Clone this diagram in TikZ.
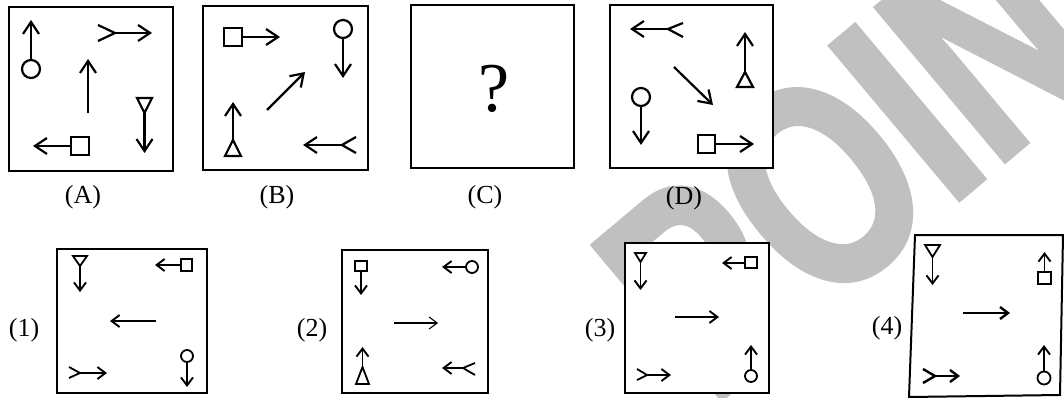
\documentclass[tikz,border=0pt]{standalone}
\usepackage{fontspec}
\setmainfont{Liberation Serif}
\newfontface\markfont{Liberation Sans Bold}[FakeStretch=0.74, FakeBold=2]
\usetikzlibrary{arrows.meta}
\definecolor{markgray}{RGB}{192,192,192}

\begin{document}
\begin{tikzpicture}[x=1pt,y=-1pt]
\tikzstyle{box} = [draw, line width=2pt, fill=white]
\tikzstyle{part} = [line width=2.2pt]
\tikzstyle{fig} = [line width=2.2pt, -{Straight Barb[length=12pt,width=16pt]}]
\tikzstyle{bit} = [line width=1.8pt]
\tikzstyle{small} = [line width=1.9pt, -{Straight Barb[length=8pt,width=12pt]}]
\tikzstyle{lbl} = [font=\fontsize{26}{26}\selectfont, inner sep=0pt]
\useasboundingbox (0,0) rectangle (1064,398);

% watermark
\node[text=markgray, font=\markfont\fontsize{290}{290}\selectfont,
  rotate=40, inner sep=0pt] (mark) at (898,120) {POINT};

% top row
\draw[box] (9,7) rectangle (173,171);
\draw[box] (203,6) rectangle (368,170);
\draw[box] (411,5) rectangle (574,168);
\draw[box] (610,5) rectangle (773,168);
\node[lbl] (labA) at (83,197) {(A)};
\node[lbl] (labB) at (277,197) {(B)};
\node[lbl] (labC) at (485,197) {(C)};
\node[lbl] (labD) at (684,198) {(D)};

% figure A
\draw[part] (31,69) circle[radius=9];
\draw[fig] (31,60) -- (31,20);
\draw[part] (98,25) -- (115,33) -- (98,41);
\draw[fig] (115,33) -- (152,33);
\draw[fig] (88,113) -- (88,59);
\draw[part] (137,98) -- (152,98) -- (144.5,113) -- cycle;
\draw[fig] (144.5,113) -- (144.5,153);
\draw[part] (71,137) rectangle (89,155);
\draw[fig] (71,146) -- (33,146);

% figure B
\draw[part] (224,28) rectangle (242,46);
\draw[fig] (242,37) -- (280,37);
\draw[part] (343,29) circle[radius=9];
\draw[fig] (343,38) -- (343,78);
\draw[fig] (267,110) -- (305,72);
\draw[part] (225,156) -- (241,156) -- (233,140) -- cycle;
\draw[fig] (233,140) -- (233,102);
\draw[part] (356,137) -- (342,145) -- (356,153);
\draw[fig] (342,145) -- (303,145);

% figure C
\node[font=\fontsize{70}{70}\selectfont, inner sep=0pt] (qmark) at (494,89) {?};

% figure D
\draw[part] (683,23) -- (668,29) -- (683,37);
\draw[fig] (668,29) -- (630,29);
\draw[fig] (674,67) -- (713,105);
\draw[part] (737,87) -- (753,87) -- (745,72) -- cycle;
\draw[fig] (745,72) -- (745,32);
\draw[part] (641,97) circle[radius=9];
\draw[fig] (641,106) -- (641,145);
\draw[part] (698,135) rectangle (715,153);
\draw[fig] (715,144) -- (754,144);

% answer row
\draw[box] (57,249) rectangle (207,393);
\draw[box] (342,250) rectangle (488,393);
\draw[box] (625,243) rectangle (769,393);
\draw[box] (915,235) -- (1063,235) -- (1060,395) -- (909,397) -- cycle;
\node[lbl] (lab1) at (24,330) {(1)};
\node[lbl] (lab2) at (312,330) {(2)};
\node[lbl] (lab3) at (600,330) {(3)};
\node[lbl] (lab4) at (887,328) {(4)};

% option 1
\draw[bit] (73,256) -- (87,256) -- (80,266) -- cycle;
\draw[small] (80,266) -- (80,292);
\draw[bit] (181,259) rectangle (192,271);
\draw[small] (181,265) -- (155,265);
\draw[small] (156,321) -- (110,321);
\draw[bit] (69,367) -- (80,373) -- (69,378);
\draw[small] (80,373) -- (107,373);
\draw[bit] (187,356) circle[radius=6];
\draw[small] (187,362) -- (187,387);

% option 2
\draw[bit] (355,261) rectangle (367,271);
\draw[small] (361,271) -- (361,295);
\draw[bit] (472,267) circle[radius=6];
\draw[small] (466,267) -- (442,267);
\draw[small, line width=1.1pt] (394,323) -- (438,323);
\draw[bit] (356,384) -- (369,384) -- (362.5,367) -- cycle;
\draw[small] (362.5,367) -- (362.5,347);
\draw[bit] (475,363) -- (463,368) -- (475,375);
\draw[small] (463,368) -- (442,368);

% option 3
\draw[bit] (635,253) -- (646,253) -- (640.5,262) -- cycle;
\draw[small] (640.5,262) -- (640.5,290);
\draw[bit] (745,257) rectangle (757,268);
\draw[small] (745,263) -- (722,263);
\draw[small] (675,317) -- (719,317);
\draw[bit] (637,369) -- (647,375) -- (637,380);
\draw[small] (647,375) -- (671,375);
\draw[bit] (751,376) circle[radius=6];
\draw[small] (751,370) -- (751,345);

% option 4
\draw[bit] (925,245) -- (940,245) -- (932.5,257) -- cycle;
\draw[small] (932.5,257) -- (932.5,285);
\draw[bit] (1038,272) rectangle (1051,284);
\draw[small] (1044.5,272) -- (1044.5,252);
\draw[small, line width=2.4pt] (963,313) -- (1010,313);
\draw[bit, line width=2.4pt] (923,369) -- (935,376) -- (923,383);
\draw[small, line width=2.4pt] (935,376) -- (960,376);
\draw[bit] (1044,378) circle[radius=6.5];
\draw[small] (1044,371.5) -- (1044,345);
\end{tikzpicture}
\end{document}
